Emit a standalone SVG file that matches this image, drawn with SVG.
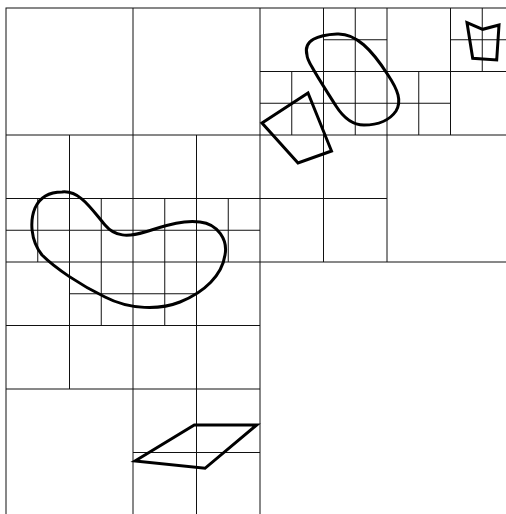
<svg xmlns="http://www.w3.org/2000/svg" width="506" height="514" viewBox="0 0 506 514">
<style>
.g{stroke:#111;stroke-width:1;fill:none}
.s{stroke:#000;stroke-width:3;fill:none;stroke-linejoin:miter}
</style>
<rect width="506" height="514" fill="#fff"/>
<g id="grid" class="g">
<rect x="6" y="8" width="508" height="508"/>
<line x1="260" y1="8" x2="260" y2="516"/>
<line x1="6" y1="262" x2="514" y2="262"/>
<!-- top-left quadrant -->
<line x1="133" y1="8" x2="133" y2="262"/>
<line x1="6" y1="135" x2="260" y2="135"/>
<line x1="69.5" y1="135" x2="69.5" y2="262"/>
<line x1="6" y1="198.5" x2="133" y2="198.5"/>
<line x1="37.75" y1="198.5" x2="37.75" y2="262"/>
<line x1="101.25" y1="198.5" x2="101.25" y2="262"/>
<line x1="6" y1="230.25" x2="260" y2="230.25"/>
<line x1="196.5" y1="135" x2="196.5" y2="262"/>
<line x1="133" y1="198.5" x2="260" y2="198.5"/>
<line x1="164.75" y1="198.5" x2="164.75" y2="262"/>
<line x1="228.25" y1="198.5" x2="228.25" y2="262"/>
<!-- bottom-left quadrant -->
<line x1="133" y1="262" x2="133" y2="516"/>
<line x1="6" y1="389" x2="260" y2="389"/>
<line x1="69.5" y1="262" x2="69.5" y2="389"/>
<line x1="196.5" y1="262" x2="196.5" y2="516"/>
<line x1="6" y1="325.5" x2="260" y2="325.5"/>
<line x1="101.25" y1="262" x2="101.25" y2="325.5"/>
<line x1="164.75" y1="262" x2="164.75" y2="325.5"/>
<line x1="69.5" y1="293.75" x2="196.5" y2="293.75"/>
<line x1="133" y1="452.5" x2="260" y2="452.5"/>
<!-- top-right quadrant -->
<line x1="387" y1="8" x2="387" y2="262"/>
<line x1="260" y1="135" x2="514" y2="135"/>
<line x1="323.5" y1="8" x2="323.5" y2="262"/>
<line x1="260" y1="71.5" x2="514" y2="71.5"/>
<line x1="355.25" y1="8" x2="355.25" y2="135"/>
<line x1="323.5" y1="39.75" x2="387" y2="39.75"/>
<line x1="291.75" y1="71.5" x2="291.75" y2="135"/>
<line x1="260" y1="103.25" x2="450.5" y2="103.25"/>
<line x1="450.5" y1="8" x2="450.5" y2="135"/>
<line x1="482.25" y1="8" x2="482.25" y2="71.5"/>
<line x1="450.5" y1="39.75" x2="514" y2="39.75"/>
<line x1="418.75" y1="71.5" x2="418.75" y2="135"/>
<line x1="260" y1="198.5" x2="387" y2="198.5"/>
</g>
<g id="shapes" class="s">
<path id="blob1" d="M 307 55 C 303 40, 318 35, 337 34 C 356 33, 372 50, 388 75 C 398 90, 402 101, 396 111 C 390 120, 378 125, 364 125 C 352 125, 343 117, 336 106 C 326 90, 318 78, 312 67 C 309 62, 307 58, 307 55 Z"/>
<polygon id="quad1" points="262,123 308,93 331.5,151 298,163"/>
<polygon id="pent" points="467,22.7 482.7,29.3 499,25 496.7,60 472.7,58.3"/>
<path id="blob2" d="M 62 192 C 80 190, 92 210, 105 225 C 115 237, 128 237, 145 232 C 165 226, 180 220, 200 222 C 218 224, 228 240, 225 255 C 222 275, 205 292, 180 302 C 160 310, 130 310, 105 297 C 80 285, 55 268, 42 255 C 30 240, 30 220, 35 208 C 40 197, 50 192, 62 192 Z"/>
<polygon id="para" points="135,461 194.3,425 256.7,425 205,468.3"/>
</g>
</svg>
